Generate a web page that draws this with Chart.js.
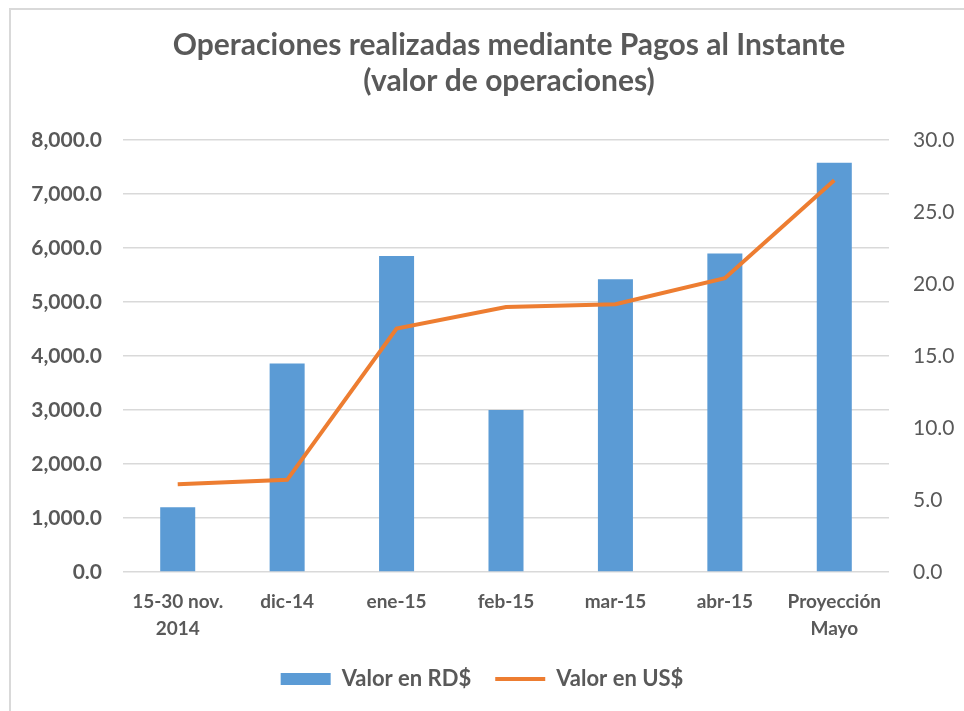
<!DOCTYPE html>
<html>
<head>
<meta charset="utf-8">
<script src="https://cdn.jsdelivr.net/npm/chart.js@4"></script>
<style>
  html, body { margin: 0; padding: 0; background: #ffffff; }
  #wrap { width: 964px; height: 711px; position: relative; }
</style>
</head>
<body>
<div id="wrap"><canvas id="chart"></canvas></div>
<script>
const categories = [['15-30 nov.', '2014'], 'dic-14', 'ene-15', 'feb-15', 'mar-15', 'abr-15', ['Proyección', 'Mayo']];
const valorRD = [1200, 3860, 5850, 3000, 5420, 5900, 7580];
const valorUS = [6.1, 6.4, 16.9, 18.4, 18.6, 20.4, 27.2];

const gray = '#595959';
const fontFamily = 'Lato, "Open Sans", sans-serif';

// fondo blanco y el marco gris claro (solo arriba e izquierda)
const frame = {
  id: 'frame',
  beforeDraw(chart) {
    const ctx = chart.ctx;
    ctx.save();
    ctx.fillStyle = '#ffffff';
    ctx.fillRect(0, 0, chart.width, chart.height);
    ctx.strokeStyle = '#d9d9d9';
    ctx.lineWidth = 2;
    ctx.beginPath();
    ctx.moveTo(chart.width, 9);
    ctx.lineTo(10, 9);
    ctx.lineTo(10, chart.height);
    ctx.stroke();
    ctx.restore();
  },
  // centrar el título sobre el área del gráfico
  afterLayout(chart) {
    if (chart.titleBlock) {
      chart.titleBlock.left = chart.chartArea.left + 3;
      chart.titleBlock.right = chart.chartArea.right + 3;
    }
  }
};

const ctx = document.getElementById('chart').getContext('2d');
new Chart(ctx, {
  data: {
    labels: categories,
    datasets: [
      {
        type: 'line',
        label: 'Valor en US$',
        data: valorUS,
        yAxisID: 'y1',
        borderColor: '#ed7d31',
        backgroundColor: '#ed7d31',
        borderWidth: 4,
        pointRadius: 0,
        pointStyle: 'line',
        tension: 0,
        order: 1
      },
      {
        type: 'bar',
        label: 'Valor en RD$',
        data: valorRD,
        yAxisID: 'y',
        backgroundColor: '#5b9bd5',
        borderWidth: 0,
        barPercentage: 0.32,
        categoryPercentage: 1,
        pointStyle: 'rect',
        order: 2
      }
    ]
  },
  options: {
    responsive: true,
    maintainAspectRatio: false,
    animation: false,
    layout: { padding: { left: 0, right: 0, top: 27, bottom: 11 } },
    plugins: {
      title: {
        display: true,
        text: ['Operaciones realizadas mediante Pagos al Instante', '(valor de operaciones)'],
        color: gray,
        font: { family: fontFamily, size: 30, weight: 'bold', lineHeight: 1.2 },
        padding: { top: 0, bottom: 41 }
      },
      legend: {
        position: 'bottom',
        reverse: true,
        labels: {
          color: gray,
          font: { family: fontFamily, size: 22, weight: 'bold' },
          usePointStyle: true,
          pointStyleWidth: 50,
          boxHeight: 12,
          padding: 24
        }
      },
      tooltip: { enabled: false }
    },
    scales: {
      x: {
        grid: { display: false },
        border: { display: false },
        afterFit: s => { s.height = 72; },
        ticks: {
          color: gray,
          font: { family: fontFamily, size: 19, weight: 'bold', lineHeight: 1.45 },
          padding: 8,
          maxRotation: 0
        }
      },
      y: {
        position: 'left',
        min: 0,
        max: 8000,
        border: { display: false },
        grid: { color: '#d9d9d9', lineWidth: 1.5, drawTicks: false },
        afterFit: s => { s.width = 123; },
        ticks: {
          stepSize: 1000,
          color: gray,
          padding: 21,
          font: { family: fontFamily, size: 21, weight: 'bold' },
          callback: v => v.toLocaleString('en-US', { minimumFractionDigits: 1, maximumFractionDigits: 1 })
        }
      },
      y1: {
        position: 'right',
        min: 0,
        max: 30,
        border: { display: false },
        grid: { display: false, drawTicks: false },
        afterFit: s => { s.width = 75; },
        ticks: {
          stepSize: 5,
          color: gray,
          padding: 24,
          font: { family: fontFamily, size: 21 },
          callback: v => v.toFixed(1)
        }
      }
    }
  },
  plugins: [frame]
});
</script>
</body>
</html>
